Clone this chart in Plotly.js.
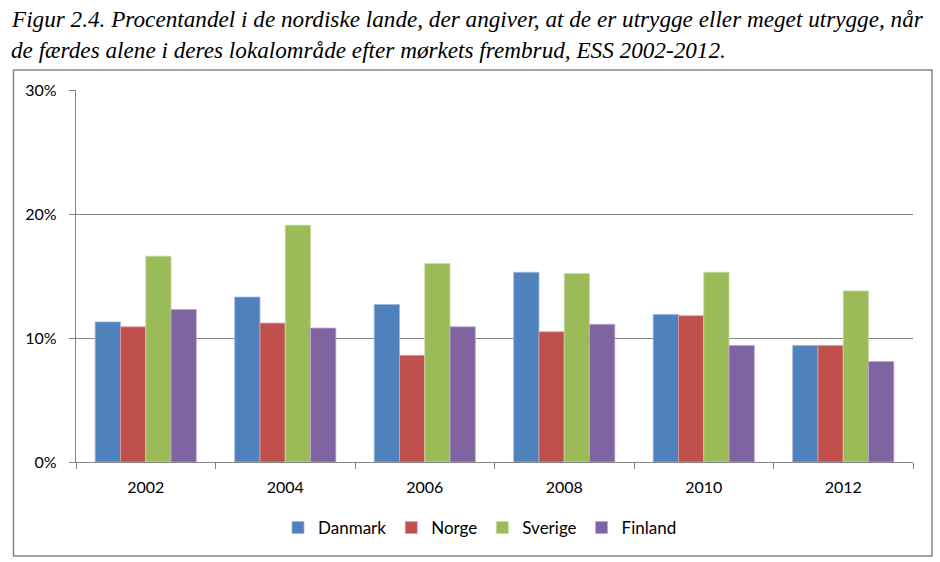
<!DOCTYPE html>
<html>
<head>
<meta charset="utf-8">
<script src="https://cdn.plot.ly/plotly-3.0.1.min.js"></script>
<style>html,body{margin:0;padding:0;background:#fff;}#chart{width:940px;height:562px;}</style>
</head>
<body>
<div id="chart"></div>
<script>
const years = ['2002', '2004', '2006', '2008', '2010', '2012'];
const danmark = [11.3, 13.3, 12.7, 15.3, 11.9, 9.4];
const norge = [10.9, 11.2, 8.6, 10.5, 11.8, 9.4];
const sverige = [16.6, 19.1, 16.0, 15.2, 15.3, 13.8];
const finland = [12.3, 10.8, 10.9, 11.1, 9.4, 8.1];
const seriesNames = ['Danmark', 'Norge', 'Sverige', 'Finland'];
const seriesColors = ['#4F81BD', '#C0504D', '#9BBB59', '#8064A2'];
const edgeColors = ['#9DB8DC', '#DDA09E', '#C6DAA3', '#B8A6CE'];
const titleLine1 = 'Figur 2.4. Procentandel i de nordiske lande, der angiver, at de er utrygge eller meget utrygge, når';
const titleLine2 = 'de færdes alene i deres lokalområde efter mørkets frembrud, ESS 2002-2012.';

const allValues = [danmark, norge, sverige, finland];
const traces = allValues.map((vals, i) => ({
  type: 'bar',
  name: seriesNames[i],
  x: years,
  y: vals,
  marker: {color: seriesColors[i], line: {color: edgeColors[i], width: 0.8}},
  hoverinfo: 'x+y+name'
}));

const W = 940, H = 562;
const mL = 76, mR = 27, mT = 90, mB = 100;
const pw = W - mL - mR, ph = H - mT - mB;
const px = x => (x - mL) / pw;
const py = y => (H - mB - y) / ph;

const font = 'Lato, "Open Sans", sans-serif';
const serif = '"Liberation Serif", "Times New Roman", serif';
const layout = {
  width: W, height: H,
  margin: {l: mL, r: mR, t: mT, b: mB},
  paper_bgcolor: '#fff', plot_bgcolor: '#fff',
  barmode: 'group',
  bargap: 0.275,
  bargroupgap: 0,
  font: {family: font, size: 16, color: '#000'},
  xaxis: {
    type: 'category',
    showline: true, linecolor: '#868686', linewidth: 1.3,
    ticks: 'outside', tickson: 'boundaries', ticklen: 6, tickcolor: '#868686', tickwidth: 1.3,
    tickfont: {family: font, size: 16, color: '#000'},
    ticklabelstandoff: 11,
    showgrid: false, fixedrange: true
  },
  yaxis: {
    range: [0, 30], dtick: 10, tick0: 0,
    ticksuffix: '%',
    showline: true, linecolor: '#868686', linewidth: 1.3,
    ticks: 'outside', ticklen: 6, tickcolor: '#868686', tickwidth: 1.3,
    showgrid: true, gridcolor: '#868686', gridwidth: 1.3,
    zeroline: false,
    tickfont: {family: font, size: 16, color: '#000'},
    ticklabelstandoff: 9,
    fixedrange: true
  },
  showlegend: true,
  legend: {
    orientation: 'h',
    x: px(278), xanchor: 'left',
    y: py(528), yanchor: 'middle',
    font: {family: font, size: 17, color: '#000'},
    itemclick: false, itemdoubleclick: false,
    traceorder: 'normal'
  },
  shapes: [{
    type: 'rect', xref: 'paper', yref: 'paper',
    x0: px(13.5), x1: px(932), y0: py(556), y1: py(70),
    line: {color: '#868686', width: 1.5}, fillcolor: 'rgba(0,0,0,0)', layer: 'below'
  }],
  annotations: [
    {text: titleLine1, xref: 'paper', yref: 'paper', x: px(9), xanchor: 'left', y: py(19), yanchor: 'middle',
     showarrow: false, font: {family: serif, size: 23.2, color: '#000'}},
    {text: titleLine2, xref: 'paper', yref: 'paper', x: px(9), xanchor: 'left', y: py(50), yanchor: 'middle',
     showarrow: false, font: {family: serif, size: 23.2, color: '#000'}}
  ]
};
layout.annotations.forEach(a => { a.text = '<i>' + a.text + '</i>'; });

Plotly.newPlot('chart', traces, layout, {displayModeBar: false, staticPlot: false});
</script>
</body>
</html>
